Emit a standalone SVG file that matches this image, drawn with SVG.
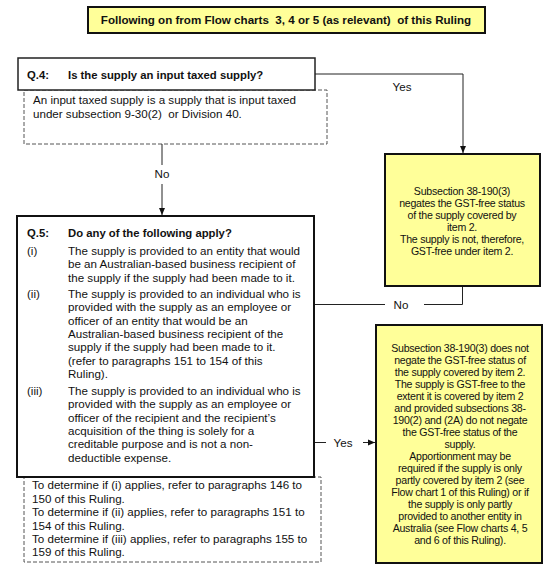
<svg xmlns="http://www.w3.org/2000/svg" width="558" height="572" viewBox="0 0 558 572">
<style>
.t{font-family:"Liberation Sans",Arial,sans-serif;font-size:11.6px;fill:#111}
.b{font-weight:bold;font-size:11.3px}
.tt{font-family:"Liberation Sans",Arial,sans-serif;font-size:11.6px;font-weight:bold;fill:#111;white-space:pre}
.y{font-family:"Liberation Sans",Arial,sans-serif;font-size:10.6px;fill:#111;text-anchor:middle;letter-spacing:-0.25px}
.box{fill:#fff;stroke:#222;stroke-width:1.5}
.dash{fill:#fff;stroke:#555;stroke-width:1;stroke-dasharray:4 2}
.yb{fill:#ffff99;stroke:#111;stroke-width:2}
.ln{fill:none;stroke:#222;stroke-width:1}
</style>
<defs>
<marker id="ar" markerWidth="8" markerHeight="8" refX="7" refY="4" orient="auto" markerUnits="userSpaceOnUse">
<path d="M0,1 L7,4 L0,7 Z" fill="#111"/>
</marker>
</defs>
<rect width="558" height="572" fill="#fff"/>

<g id="title">
<rect x="88" y="7" width="397" height="26" fill="#ffff99" stroke="#111" stroke-width="2"/>
<text class="tt" x="286" y="24" text-anchor="middle" xml:space="preserve">Following on from Flow charts  3, 4 or 5 (as relevant)  of this Ruling</text>
</g>

<g id="q4note">
<rect class="dash" x="24" y="90" width="303" height="54"/>
<text class="t" x="33" y="104">An input taxed supply is a supply that is input taxed</text>
<text class="t" x="33" y="118" xml:space="preserve">under subsection 9-30(2)  or Division 40.</text>
</g>

<g id="q4">
<rect class="box" x="18" y="58" width="297" height="32"/>
<text class="t b" x="27" y="79">Q.4:</text>
<text class="t b" x="68" y="79">Is the supply an input taxed supply?</text>
</g>

<g id="r1">
<rect class="yb" x="385" y="154" width="155" height="132"/>
<text class="y" x="462" y="195">Subsection 38-190(3)</text>
<text class="y" x="462" y="207">negates the GST-free status</text>
<text class="y" x="462" y="219">of the supply covered by</text>
<text class="y" x="462" y="231">item 2.</text>
<text class="y" x="462" y="243">The supply is not, therefore,</text>
<text class="y" x="462" y="255">GST-free under item 2.</text>
</g>

<g id="q5note">
<rect class="dash" x="24" y="477" width="297" height="85"/>
<text class="t" x="32" y="489">To determine if (i) applies, refer to paragraphs 146 to</text>
<text class="t" x="32" y="502.5">150 of this Ruling.</text>
<text class="t" x="32" y="516">To determine if (ii) applies, refer to paragraphs 151 to</text>
<text class="t" x="32" y="529.5">154 of this Ruling.</text>
<text class="t" x="32" y="543">To determine if (iii) applies, refer to paragraphs 155 to</text>
<text class="t" x="32" y="556">159 of this Ruling.</text>
</g>

<g id="q5">
<rect x="17" y="216" width="297" height="261" fill="#fff" stroke="#111" stroke-width="2"/>
<text class="t b" x="27" y="237">Q.5:</text>
<text class="t b" x="68" y="237">Do any of the following apply?</text>
<text class="t" x="27" y="255">(i)</text>
<text class="t" x="68" y="255">The supply is provided to an entity that would</text>
<text class="t" x="68" y="268">be an Australian-based business recipient of</text>
<text class="t" x="68" y="281.5">the supply if the supply had been made to it.</text>
<text class="t" x="27" y="298">(ii)</text>
<text class="t" x="68" y="298">The supply is provided to an individual who is</text>
<text class="t" x="68" y="311.3">provided with the supply as an employee or</text>
<text class="t" x="68" y="324.6">officer of an entity that would be an</text>
<text class="t" x="68" y="338">Australian-based business recipient of the</text>
<text class="t" x="68" y="351.2">supply if the supply had been made to it.</text>
<text class="t" x="68" y="364.5">(refer to paragraphs 151 to 154 of this</text>
<text class="t" x="68" y="378">Ruling).</text>
<text class="t" x="27" y="395">(iii)</text>
<text class="t" x="68" y="395">The supply is provided to an individual who is</text>
<text class="t" x="68" y="408.3">provided with the supply as an employee or</text>
<text class="t" x="68" y="421.6">officer of the recipient and the recipient’s</text>
<text class="t" x="68" y="435">acquisition of the thing is solely for a</text>
<text class="t" x="68" y="448.2">creditable purpose and is not a non-</text>
<text class="t" x="68" y="461.5">deductible expense.</text>
</g>

<g id="r2">
<rect class="yb" x="376" y="325" width="166" height="238"/>
<text class="y" x="460" y="352">Subsection 38-190(3) does not</text>
<text class="y" x="460" y="364">negate the GST-free status of</text>
<text class="y" x="460" y="376">the supply covered by item 2.</text>
<text class="y" x="460" y="388">The supply is GST-free to the</text>
<text class="y" x="460" y="400">extent it is covered by item 2</text>
<text class="y" x="460" y="412">and provided subsections 38-</text>
<text class="y" x="460" y="424">190(2) and (2A) do not negate</text>
<text class="y" x="460" y="436">the GST-free status of the</text>
<text class="y" x="460" y="448">supply.</text>
<text class="y" x="460" y="460">Apportionment may be</text>
<text class="y" x="460" y="472">required if the supply is only</text>
<text class="y" x="460" y="484">partly covered by item 2 (see</text>
<text class="y" x="460" y="496">Flow chart 1 of this Ruling) or if</text>
<text class="y" x="460" y="508">the supply is only partly</text>
<text class="y" x="460" y="520">provided to another entity in</text>
<text class="y" x="460" y="532">Australia (see Flow charts 4, 5</text>
<text class="y" x="460" y="544">and 6 of this Ruling).</text>
</g>

<g id="connectors">
<path class="ln" d="M315,74 H463 V153" marker-end="url(#ar)"/>
<text class="t" x="402" y="91" text-anchor="middle">Yes</text>
<path class="ln" d="M162,144 V165"/>
<text class="t" x="162" y="178" text-anchor="middle">No</text>
<path class="ln" d="M162,184 V215" marker-end="url(#ar)"/>
<path class="ln" d="M315,304.5 H385"/>
<text class="t" x="401" y="308.5" text-anchor="middle">No</text>
<path class="ln" d="M424,304.5 H462.5 V287"/>
<path class="ln" d="M315,442.5 H326"/>
<text class="t" x="343" y="446.5" text-anchor="middle">Yes</text>
<path class="ln" d="M363,442.5 H375" marker-end="url(#ar)"/>
</g>
</svg>
